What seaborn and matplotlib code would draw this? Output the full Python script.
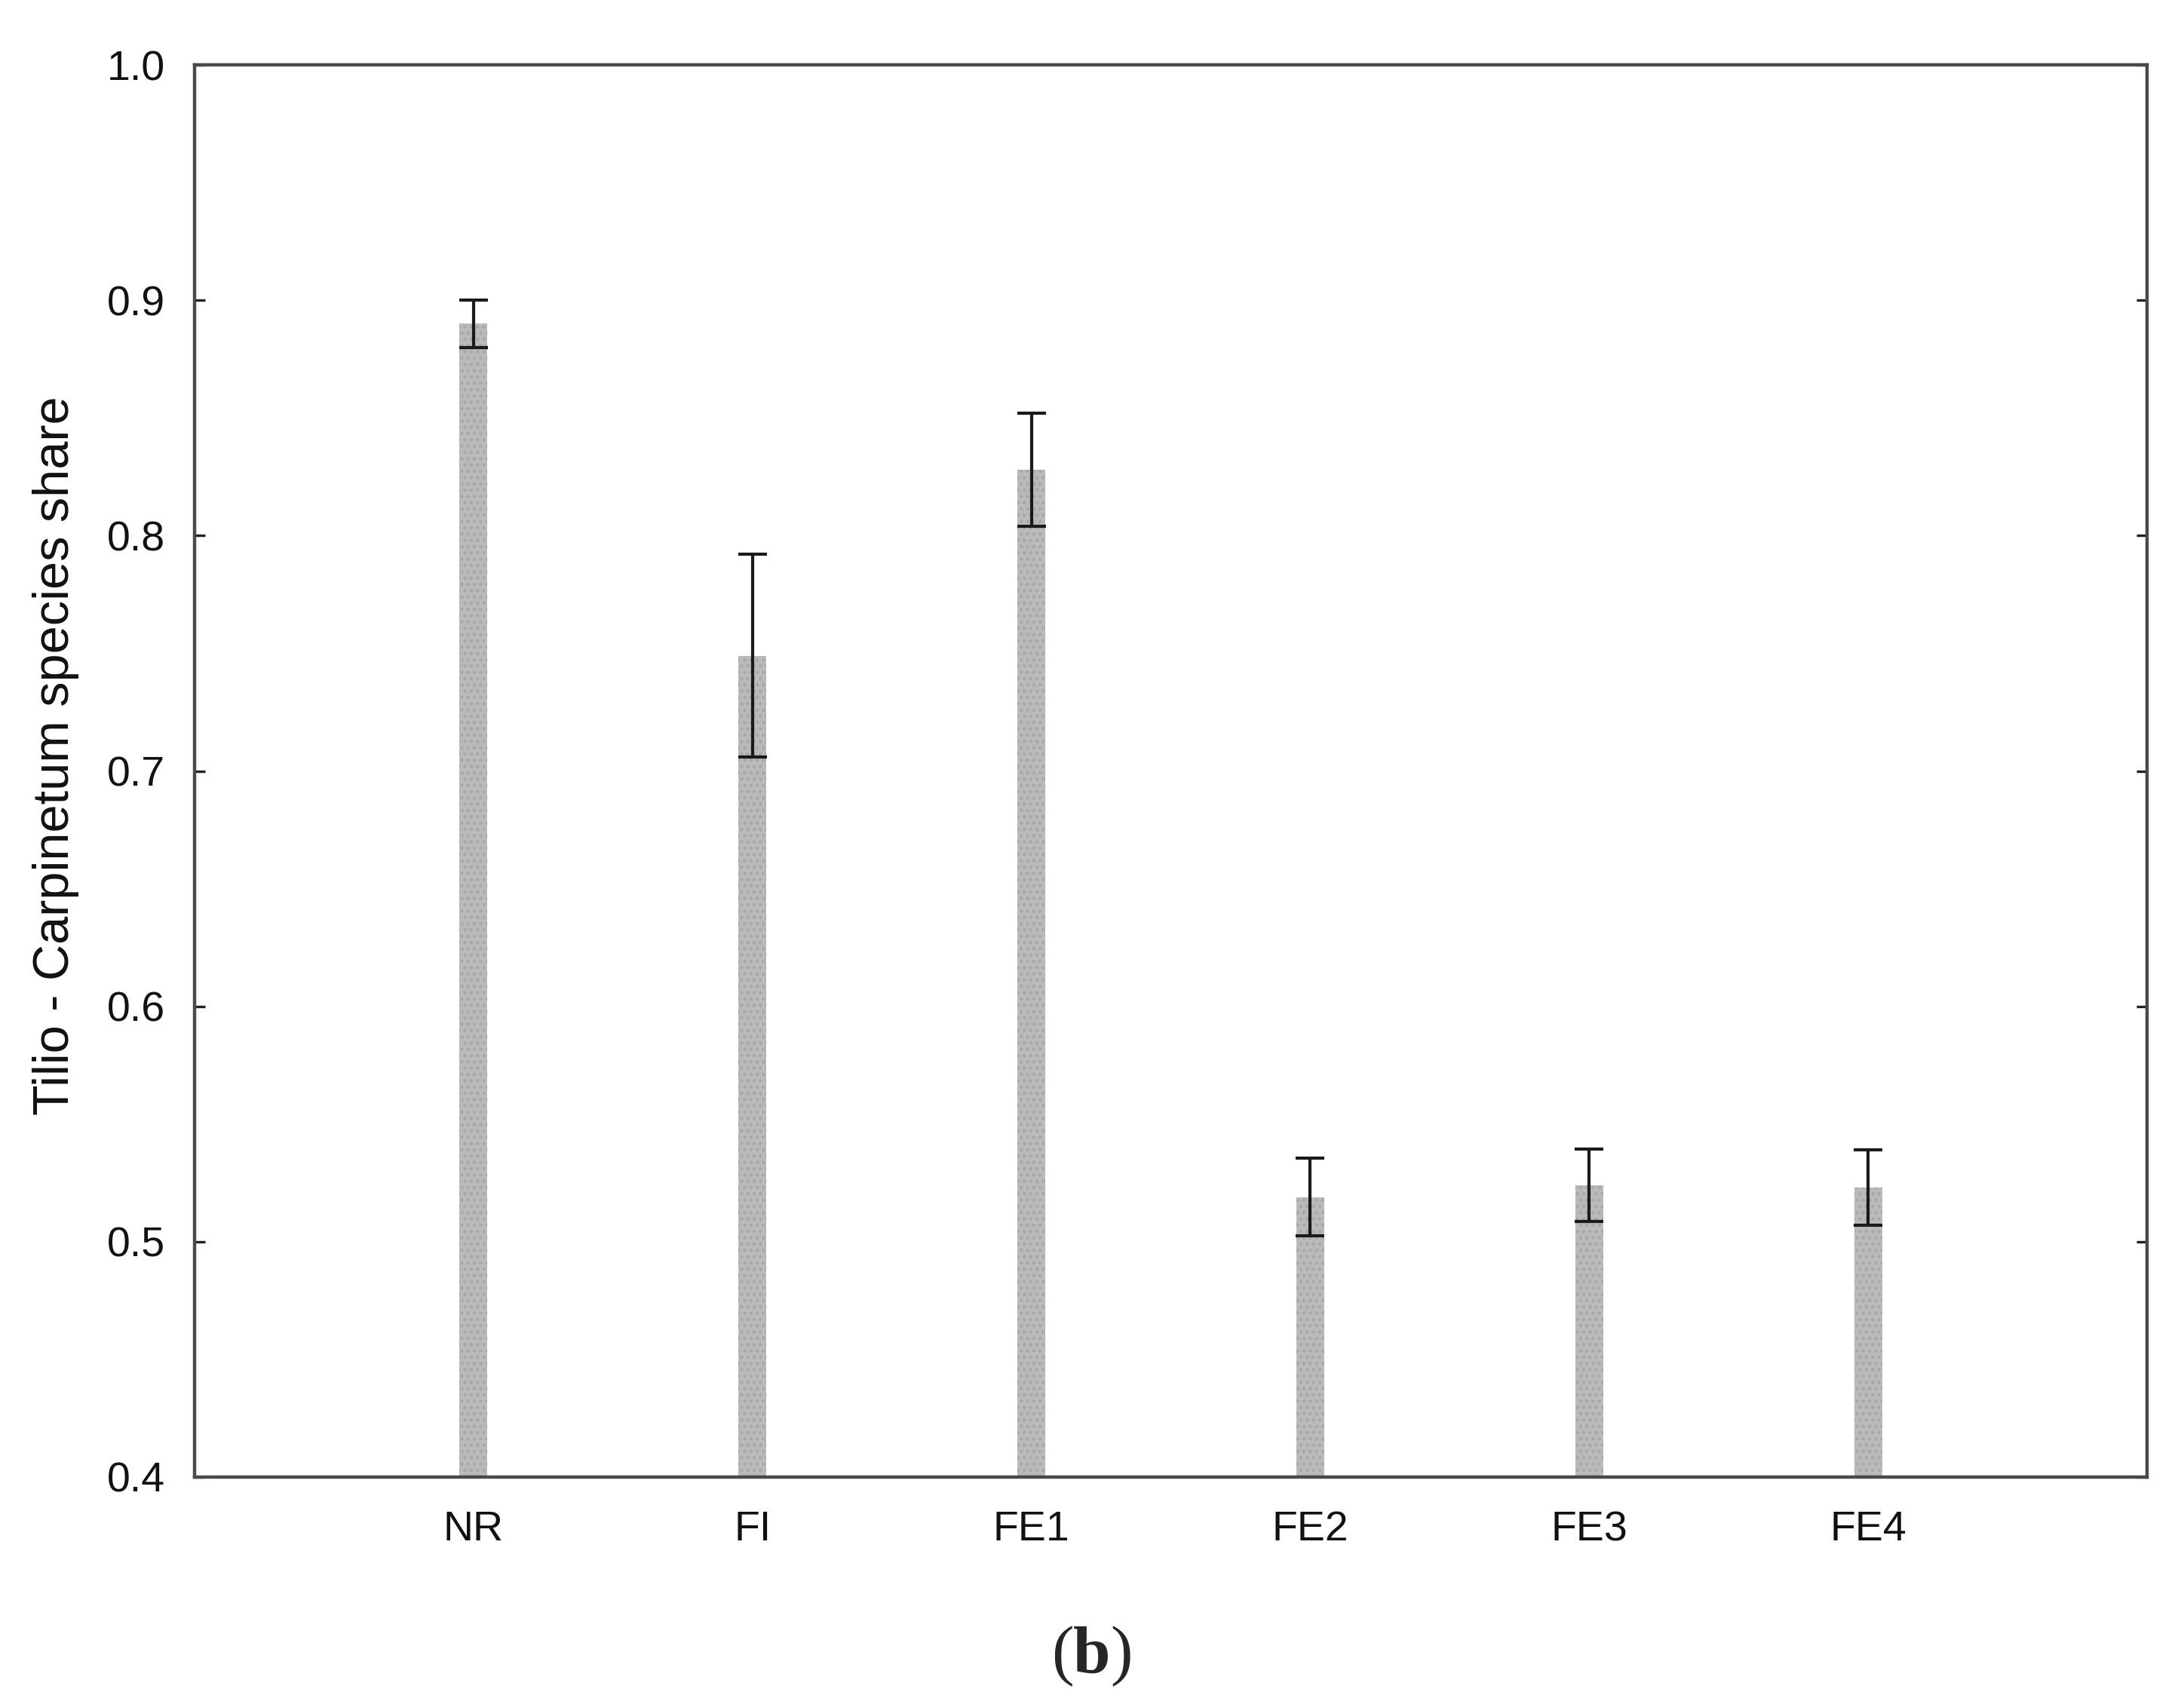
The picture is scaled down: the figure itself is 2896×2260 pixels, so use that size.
import matplotlib
matplotlib.use("Agg")
import matplotlib.pyplot as plt
import seaborn as sns
import pandas as pd

# values
groups = ["NR", "FI", "FE1", "FE2", "FE3", "FE4"]
share = [0.890, 0.749, 0.828, 0.519, 0.524, 0.523]
err = [0.010, 0.043, 0.024, 0.0165, 0.0155, 0.016]

df = pd.DataFrame({"group": groups, "share": share, "err": err})

sns.set_style("ticks")
plt.rcParams["font.family"] = ["Liberation Sans", "DejaVu Sans"]
plt.rcParams["hatch.linewidth"] = 1.0

fig = plt.figure(figsize=(14.48, 11.3), dpi=200)
ax = fig.add_axes([0.0891, 0.1332, 0.8940, 0.8287])

sns.barplot(data=df, x="group", y="share", color="#bababa", width=0.1,
            saturation=1, errorbar=None, ax=ax, linewidth=0)
for p in ax.patches:
    p.set_hatch("....")
    p.set_edgecolor("#a8a8a8")
    p.set_linewidth(0)

ax.errorbar(x=range(len(groups)), y=df["share"], yerr=df["err"], fmt="none",
            ecolor="#1a1a1a", elinewidth=1.5, capsize=7, capthick=1.5)

ax.set_xlim(-1, 6)
ax.set_ylim(0.4, 1.0)
ax.set_yticks([0.4, 0.5, 0.6, 0.7, 0.8, 0.9, 1.0])
ax.set_yticklabels(["0.4", "0.5", "0.6", "0.7", "0.8", "0.9", "1.0"])
ax.tick_params(direction="in", length=5, width=1.2, color="#222222",
               labelcolor="#111111", labelsize=20, top=False, right=True, pad=14)
ax.tick_params(axis="x", pad=16)
for s in ax.spines.values():
    s.set_visible(True)
    s.set_color("#4a4a4a")
    s.set_linewidth(1.6)

ax.set_xlabel("")
ax.set_ylabel("Tilio - Carpinetum species share", fontsize=24, color="#111111")
ax.yaxis.set_label_coords(-0.059, 0.511)

# panel letter "(b)" with a bold b
fy = 0.028
fig.text(0.4915, fy, "(", ha="right", va="center", fontsize=32,
         family=["Liberation Serif"])
fig.text(0.5, fy, "b", ha="center", va="center", fontsize=32,
         fontweight="bold", family=["Liberation Serif"])
fig.text(0.5085, fy, ")", ha="left", va="center", fontsize=32,
         family=["Liberation Serif"])

fig.savefig("out.png", dpi=200, facecolor="white")
